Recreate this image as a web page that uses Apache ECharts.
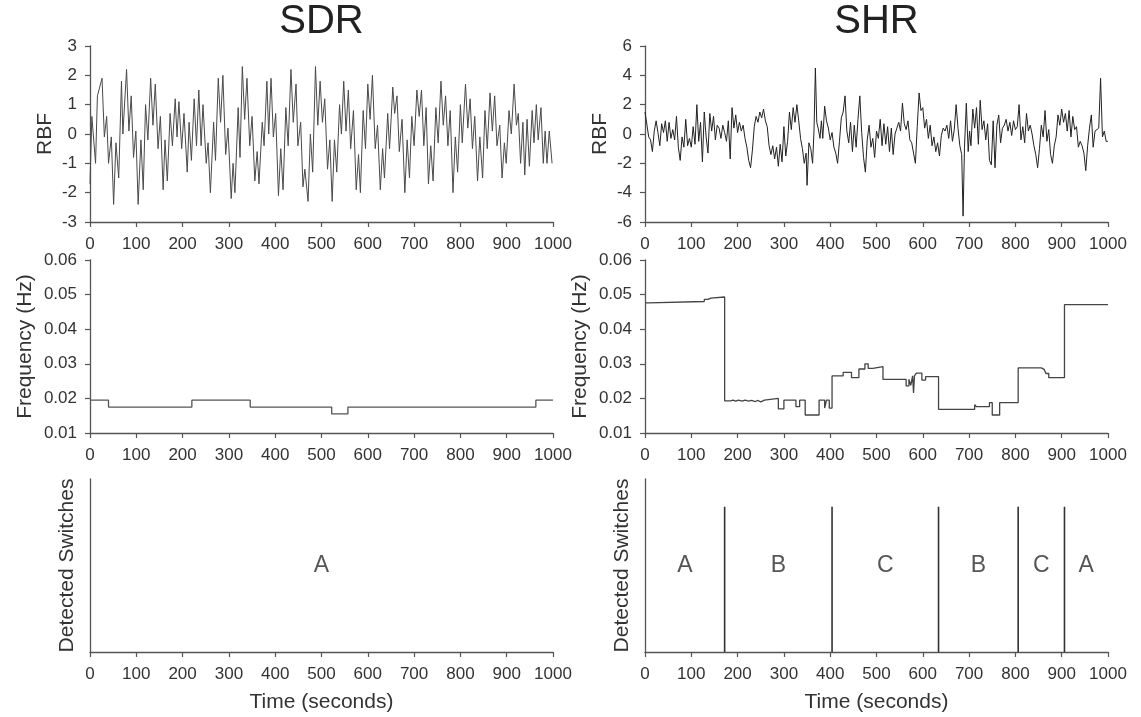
<!DOCTYPE html>
<html><head><meta charset="utf-8">
<script src="https://cdn.jsdelivr.net/npm/echarts@6.0.0/dist/echarts.min.js"></script>
<style>html,body{margin:0;padding:0;background:#fff}#c{width:1141px;height:717px}</style>
</head><body><div id="c"></div>
<script>
// ---------- DATA ----------
const panelTitles = ['SDR', 'SHR'];
const xTicks = [0, 100, 200, 300, 400, 500, 600, 700, 800, 900, 1000];

// RBF time series [time (s), value]
const sdrRbf = [[0,-1.7],[4,0.6],[12,-1.0],[16,1.3],[26,1.9],[31,-0.1],[36,0.6],[40,-1.0],[46,-0.1],[51,-2.4],[56,-0.3],[62,-1.5],[68,1.8],[71,0],[79,2.2],[84,0.1],[89,1.3],[94,-0.8],[99,0.1],[104,-2.4],[110,-0.2],[115,-1.9],[120,1.0],[125,-0.2],[131,1.9],[136,0.3],[141,1.7],[147,-0.5],[152,0.6],[158,-1.9],[162,-0.2],[167,-1.6],[173,0.7],[178,-0.4],[184,1.2],[188,-0.1],[192,1.1],[198,-0.5],[203,0.7],[210,-1.3],[214,0.4],[219,-0.9],[225,1.2],[230,-0.4],[235,1.5],[240,-0.4],[244,1.0],[251,-1.0],[255,-0.3],[260,-2.0],[267,0.4],[271,-0.9],[277,1.9],[282,0.4],[287,2.0],[293,-0.7],[298,0.2],[305,-2.2],[309,-1.0],[313,-2.0],[320,0.9],[324,-0.8],[329,2.3],[334,0.5],[339,1.9],[345,-0.4],[350,0.6],[356,-1.6],[361,-0.6],[365,-1.7],[372,0.4],[376,-0.4],[382,1.8],[386,0],[391,1.9],[396,-0.1],[401,0.7],[407,-2.1],[412,-0.5],[417,-1.9],[423,0.9],[428,-0.4],[434,2.2],[439,0.4],[445,1.7],[449,-0.4],[455,0.4],[460,-1.8],[464,-1.2],[471,-2.3],[476,0],[481,-1.3],[487,2.3],[492,0.3],[497,1.8],[502,0.4],[507,1.2],[513,-1.2],[518,-0.2],[523,-2.3],[528,-0.2],[533,-1.3],[539,1.0],[543,0],[548,1.8],[553,0.1],[558,1.5],[563,-0.5],[569,0.8],[575,-1.9],[580,-0.7],[584,-2.0],[590,0.8],[595,-0.5],[600,1.7],[605,0.5],[610,2.0],[616,-0.5],[621,0.3],[627,-1.9],[632,-0.5],[636,-1.5],[643,0.7],[647,-0.5],[654,1.6],[658,0.7],[663,1.3],[668,-0.6],[674,0.5],[680,-2.0],[685,-0.2],[690,-1.5],[695,0.6],[700,-0.4],[706,1.5],[711,0.6],[716,1.5],[721,-0.4],[726,0.9],[731,-1.7],[736,-0.4],[741,-1.6],[747,0.9],[752,-0.3],[758,1.8],[763,0.3],[768,1.3],[773,-0.4],[778,0.8],[784,-2.0],[789,-0.1],[794,-1.3],[800,1.0],[804,-0.3],[811,1.7],[816,0.2],[821,1.2],[826,-0.5],[831,0.6],[837,-1.6],[842,-0.1],[848,-1.5],[853,0.8],[858,-0.5],[864,1.4],[869,0.1],[874,1.3],[879,-0.4],[885,0.3],[890,-1.5],[895,-0.3],[899,-1.0],[905,0.8],[910,0],[916,1.7],[921,0.3],[925,0.7],[930,-1.0],[935,0.4],[939,-1.4],[944,0.5],[949,-1.1],[955,0.8],[959,-0.3],[964,1.0],[968,-0.2],[974,0.9],[979,-1.0],[983,0.1],[987,-1.0],[992,0.1],[998,-1.0]];

const shrRbf = [[0,1.5],[4,1.4],[8,-0.2],[12,-0.4],[16,-1.2],[20,0.2],[24,0.9],[28,0.1],[32,-0.8],[36,0.7],[40,0.1],[44,0.9],[48,-0.5],[52,0.8],[56,-0.3],[60,0.3],[64,-0.4],[68,1.2],[72,-0.9],[76,-1.8],[80,-0.2],[84,-0.9],[88,1.0],[92,-0.8],[96,-0.3],[100,-0.9],[104,0.5],[108,-0.7],[112,2.0],[116,-0.5],[120,0.8],[124,-1.9],[128,1.5],[132,-0.2],[136,-1.3],[140,1.4],[144,0.2],[148,1.2],[152,-0.4],[156,0.6],[160,0.4],[164,-0.3],[168,0.6],[172,0.1],[176,-0.5],[180,0.9],[184,-1.7],[188,1.8],[192,0.4],[196,1.3],[200,0.1],[204,0.8],[208,0.2],[212,0.6],[216,-0.3],[220,-0.9],[224,-1.8],[228,-2.3],[232,-1.1],[236,0.5],[240,1.2],[244,0.8],[248,1.5],[252,1.1],[256,1.7],[260,0.9],[264,0.5],[268,-0.8],[272,-1.4],[276,-0.8],[280,-1.7],[284,-0.9],[288,-2.2],[292,-0.7],[296,-1.9],[300,0.5],[304,-1.5],[308,-0.5],[312,1.5],[316,0.3],[320,1.8],[324,0.8],[328,2.0],[332,0.9],[336,-0.3],[340,-1.0],[344,-2.0],[348,-1.3],[350,-3.5],[354,-0.6],[358,-1.0],[362,-2.0],[365,0.2],[368,4.5],[371,0.8],[374,0.4],[378,-0.3],[381,0.9],[384,-0.3],[388,1.9],[392,0.9],[396,0.4],[400,-0.4],[404,0.1],[408,-0.9],[412,-1.3],[416,-2.0],[420,-0.5],[424,1.1],[428,1.5],[432,2.6],[436,0.2],[440,-0.6],[444,0.8],[448,-1.2],[452,0.6],[456,-0.9],[460,1.0],[464,2.6],[468,0.1],[472,-1.6],[476,-2.6],[480,-0.4],[484,0.6],[488,-0.9],[492,-0.3],[496,-1.6],[500,0.2],[504,-0.3],[508,1.0],[512,-0.8],[516,0.7],[520,-0.7],[524,0.5],[528,-1.2],[532,0.4],[536,-1.4],[540,0.0],[544,0.4],[548,0.8],[552,0.2],[556,2.1],[560,0.7],[564,0.3],[568,0.9],[572,-0.4],[576,-0.6],[580,-1.3],[584,-2.0],[588,0.5],[592,2.8],[596,1.6],[600,1.8],[604,0.4],[608,1.0],[612,-0.3],[616,0.6],[620,-0.8],[624,-0.2],[628,-1.2],[632,-0.6],[636,-1.5],[640,-0.1],[644,0.4],[648,0.2],[652,0.6],[656,-0.3],[660,0.9],[664,-0.5],[668,0.3],[672,2.0],[676,0.4],[680,-0.8],[684,-1.4],[687,-5.6],[690,-0.9],[694,2.1],[698,-1.2],[701,0.2],[704,-0.8],[708,1.7],[712,0.4],[716,1.8],[720,-0.7],[724,2.3],[728,0.3],[732,0.9],[736,-0.4],[740,0.7],[744,-1.8],[748,-2.1],[752,0.9],[756,-2.3],[760,0.6],[764,1.3],[768,-0.6],[772,0.4],[776,0.6],[780,1.0],[784,0.2],[788,0.8],[792,-0.1],[796,0.9],[800,0.3],[804,0.5],[808,2.0],[812,-0.4],[816,0.5],[820,-0.6],[824,1.4],[828,0.2],[832,0.6],[836,0.0],[840,-0.8],[844,-1.4],[848,-2.3],[852,-1.0],[856,0.6],[860,-0.2],[864,1.6],[868,-0.5],[872,0.3],[876,-1.4],[880,-2.0],[884,-0.8],[888,-0.2],[892,1.3],[896,0.6],[900,1.7],[904,0.8],[908,1.4],[912,0.2],[916,1.6],[920,-0.2],[924,1.2],[928,0.3],[932,0.5],[936,-0.9],[940,-0.5],[944,-0.8],[948,-1.3],[952,-2.5],[956,-0.8],[960,0.4],[964,1.3],[968,-0.9],[972,0.2],[976,0.1],[980,0.4],[984,3.8],[988,-0.2],[992,0.2],[996,-0.5],[1000,-0.5]];

// Frequency (Hz): step start times and levels
const sdrFreqT = [0, 40, 220, 346, 522, 557, 963, 1000];
const sdrFreqV = [0.0195, 0.0175, 0.0195, 0.0175, 0.0155, 0.0175, 0.0195, 0.0195];
const shrFreqT = [0, 8, 128, 136, 142, 172, 185, 190, 196, 202, 210, 216, 224, 230, 238, 244, 250, 258, 288, 300, 326, 334, 346, 376, 388, 392, 398, 404, 428, 446, 462, 475, 482, 492, 514, 564, 570, 574, 578, 580, 582, 586, 598, 606, 634, 712, 716, 744, 750, 766, 806, 856, 862, 866, 872, 906, 1000];
const shrFreqV = [0.0476, 0.0480, 0.0486, 0.0490, 0.0493, 0.0193, 0.0195, 0.0192, 0.0195, 0.0192, 0.0195, 0.0192, 0.0194, 0.0191, 0.0194, 0.0190, 0.0195, 0.0200, 0.0170, 0.0195, 0.0176, 0.0195, 0.0152, 0.0195, 0.0172, 0.0195, 0.0172, 0.0265, 0.0275, 0.0260, 0.0285, 0.0300, 0.0287, 0.0292, 0.0255, 0.0236, 0.0255, 0.0238, 0.0265, 0.0216, 0.0265, 0.0273, 0.0253, 0.0263, 0.0168, 0.0182, 0.0176, 0.0188, 0.0152, 0.0188, 0.0288, 0.0284, 0.0288, 0.0272, 0.0260, 0.0471, 0.0471];

// Detected switches
const sdrSwitches = [];
const sdrStates = [[500, 'A']];
const shrSwitches = [172, 404, 634, 806, 906];
const shrStates = [[86, 'A'], [288, 'B'], [519, 'C'], [720, 'B'], [856, 'C'], [953, 'A']];
const switchHeight = 0.84;
const stateLabelY = 0.5;

// ---------- CHART ----------
const FONT = 'Liberation Sans, Arial, sans-serif';
const AX = '#555';
const lefts = [90, 645];
const W = 463;
const tops = [46, 260, 479];
const heights = [176, 173, 173];

const grids = [], xAxes = [], yAxes = [], series = [];
for (let r = 0; r < 3; r++) {
  for (let c = 0; c < 2; c++) {
    const i = r * 2 + c;
    grids.push({left: lefts[c], top: tops[r], width: W, height: heights[r], containLabel: false});
    xAxes.push({
      type: 'value', gridIndex: i, min: xTicks[0], max: xTicks[xTicks.length - 1], interval: xTicks[1] - xTicks[0],
      axisLine: {show: true, onZero: false, lineStyle: {color: AX, width: 1.3}},
      axisTick: {show: true, inside: false, length: 5, lineStyle: {color: AX, width: 1.2}},
      axisLabel: {color: '#333', fontSize: 17, fontFamily: FONT, margin: 14, formatter: v => String(v)},
      splitLine: {show: false},
      name: r === 2 ? 'Time (seconds)' : '', nameLocation: 'middle', nameGap: 40,
      nameTextStyle: {fontSize: 21, color: '#333', fontFamily: FONT}
    });
    let y;
    if (r === 0) {
      y = c === 0 ? {min: -3, max: 3, interval: 1} : {min: -6, max: 6, interval: 2};
      y.name = 'RBF'; y.nameGap = 34;
      y.axisLabel = {color: '#333', fontSize: 17, fontFamily: FONT, margin: 13};
    } else if (r === 1) {
      y = {min: 0.01, max: 0.06, interval: 0.01, name: 'Frequency (Hz)', nameGap: 54};
      y.axisLabel = {color: '#333', fontSize: 17, fontFamily: FONT, margin: 13, formatter: v => v.toFixed(2)};
    } else {
      y = {min: 0, max: 1, name: 'Detected Switches', nameGap: 12};
      y.axisLabel = {show: false};
    }
    Object.assign(y, {
      type: 'value', gridIndex: i, nameLocation: 'middle', nameRotate: 90,
      nameTextStyle: {fontSize: 21, color: '#333', fontFamily: FONT},
      axisLine: {show: true, onZero: false, lineStyle: {color: AX, width: 1.3}},
      axisTick: {show: r !== 2, inside: false, length: 5, lineStyle: {color: AX, width: 1.2}},
      splitLine: {show: false}
    });
    yAxes.push(y);
  }
}

const lineBase = {type: 'line', showSymbol: false, symbol: 'none', silent: true};
series.push(Object.assign({}, lineBase, {xAxisIndex: 0, yAxisIndex: 0, data: sdrRbf, lineStyle: {color: '#4a4a4a', width: 1}}));
series.push(Object.assign({}, lineBase, {xAxisIndex: 1, yAxisIndex: 1, data: shrRbf, lineStyle: {color: '#222', width: 1}}));
series.push(Object.assign({}, lineBase, {xAxisIndex: 2, yAxisIndex: 2, step: 'end', data: sdrFreqT.map((t, k) => [t, sdrFreqV[k]]), lineStyle: {color: '#555', width: 1.3}}));
series.push(Object.assign({}, lineBase, {xAxisIndex: 3, yAxisIndex: 3, step: 'end', data: shrFreqT.map((t, k) => [t, shrFreqV[k]]), lineStyle: {color: '#444', width: 1.3}}));

[[sdrSwitches, sdrStates, 4], [shrSwitches, shrStates, 5]].forEach(([sw, st, idx]) => {
  sw.forEach(t => {
    series.push(Object.assign({}, lineBase, {xAxisIndex: idx, yAxisIndex: idx, data: [[t, 0], [t, switchHeight]], lineStyle: {color: '#333', width: 1.6}}));
  });
  series.push({
    type: 'scatter', xAxisIndex: idx, yAxisIndex: idx, silent: true, symbolSize: 1,
    itemStyle: {color: 'rgba(0,0,0,0)'},
    data: st.map(s => [s[0], stateLabelY, s[1]]),
    label: {show: true, position: 'inside', formatter: p => p.value[2], fontSize: 23, color: '#2a2a2a', fontFamily: FONT}
  });
});

const chart = echarts.init(document.getElementById('c'), null, {renderer: 'canvas'});
chart.setOption({
  animation: false,
  backgroundColor: '#fff',
  grid: grids, xAxis: xAxes, yAxis: yAxes, series: series,
  graphic: panelTitles.map((t, c) => ({
    type: 'text', x: lefts[c] + W / 2, y: 22,
    style: {text: t, fontSize: 40, fontFamily: FONT, fill: '#222', align: 'center', verticalAlign: 'middle'}
  }))
});
</script></body></html>
